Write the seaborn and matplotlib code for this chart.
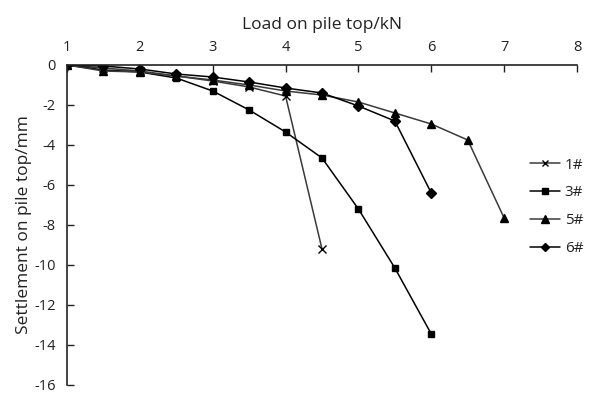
import matplotlib
matplotlib.use("Agg")
import matplotlib.pyplot as plt
import seaborn as sns
import pandas as pd

load_1 = [1, 1.5, 2, 2.5, 3, 3.5, 4, 4.5]
settle_1 = [0, -0.15, -0.3, -0.55, -0.8, -1.1, -1.55, -9.2]

load_3 = [1, 1.5, 2, 2.5, 3, 3.5, 4, 4.5, 5, 5.5, 6]
settle_3 = [0, -0.25, -0.35, -0.65, -1.3, -2.25, -3.35, -4.65, -7.2, -10.15, -13.45]

load_5 = [1, 1.5, 2, 2.5, 3, 3.5, 4, 4.5, 5, 5.5, 6, 6.5, 7]
settle_5 = [0, -0.3, -0.35, -0.55, -0.75, -1.0, -1.3, -1.5, -1.85, -2.4, -2.95, -3.75, -7.65]

load_6 = [1, 1.5, 2, 2.5, 3, 3.5, 4, 4.5, 5, 5.5, 6]
settle_6 = [0, -0.05, -0.2, -0.45, -0.6, -0.85, -1.15, -1.4, -2.05, -2.8, -6.4]

series_names = ["1#", "3#", "5#", "6#"]
x_ticks = [1, 2, 3, 4, 5, 6, 7, 8]
y_ticks = [0, -2, -4, -6, -8, -10, -12, -14, -16]

sns.set_theme(style="white")
plt.rcParams["font.family"] = ["Open Sans", "DejaVu Sans"]
plt.rcParams["axes.unicode_minus"] = False

fig = plt.figure(figsize=(5.9, 3.96), dpi=100)
ax = fig.add_axes([67 / 590, 1 - 385 / 396, (577 - 67) / 590, (385 - 65) / 396])

colors = {"1#": "#3a3a3a", "3#": "#000000", "5#": "#3a3a3a", "6#": "#000000"}
markers = {"1#": "x", "3#": "s", "5#": "^", "6#": "D"}
sizes_m = {"1#": 5.5, "3#": 4.6, "5#": 6, "6#": 5}

for name, xs, ys in zip(series_names, [load_1, load_3, load_5, load_6],
                        [settle_1, settle_3, settle_5, settle_6]):
    d = pd.DataFrame({"load": xs, "settlement": ys})
    sns.lineplot(data=d, x="load", y="settlement", color=colors[name],
                 marker=markers[name], markersize=sizes_m[name],
                 markeredgecolor="black", markerfacecolor="black",
                 markeredgewidth=1.0, sort=False, linewidth=1.1, ax=ax,
                 label=name)

ax.set_xlim(1, 8)
ax.set_ylim(-16, 0)
ax.set_xticks(x_ticks)
ax.set_yticks(y_ticks)
ax.xaxis.tick_top()
ax.xaxis.set_label_position("top")
ax.tick_params(axis="x", direction="in", length=5, width=1, colors="#222222",
               labelsize=10.5, pad=7, top=True, bottom=False)
ax.tick_params(axis="y", direction="in", length=5, width=1, colors="#222222",
               labelsize=10.5, pad=8, left=True)
for s in ["right", "bottom"]:
    ax.spines[s].set_visible(False)
for s in ["top", "left"]:
    ax.spines[s].set_color("#222222")
    ax.spines[s].set_linewidth(1.2)

ax.set_xlabel("Load on pile top/kN", fontsize=12.5, color="#222222", labelpad=8)
ax.set_ylabel("Settlement on pile top/mm", fontsize=12.5, color="#222222", labelpad=2)

handles, labels = ax.get_legend_handles_labels()
leg = ax.legend(handles, labels, loc="upper left", bbox_to_anchor=(0.895, 0.73),
                frameon=False, fontsize=11, handlelength=2.0, handletextpad=0.3,
                labelspacing=0.85, borderaxespad=0, markerscale=0.85)
for t in leg.get_texts():
    t.set_color("#222222")

ax.set_facecolor("white")
fig.patch.set_facecolor("white")
fig.savefig("out.png", dpi=100)
